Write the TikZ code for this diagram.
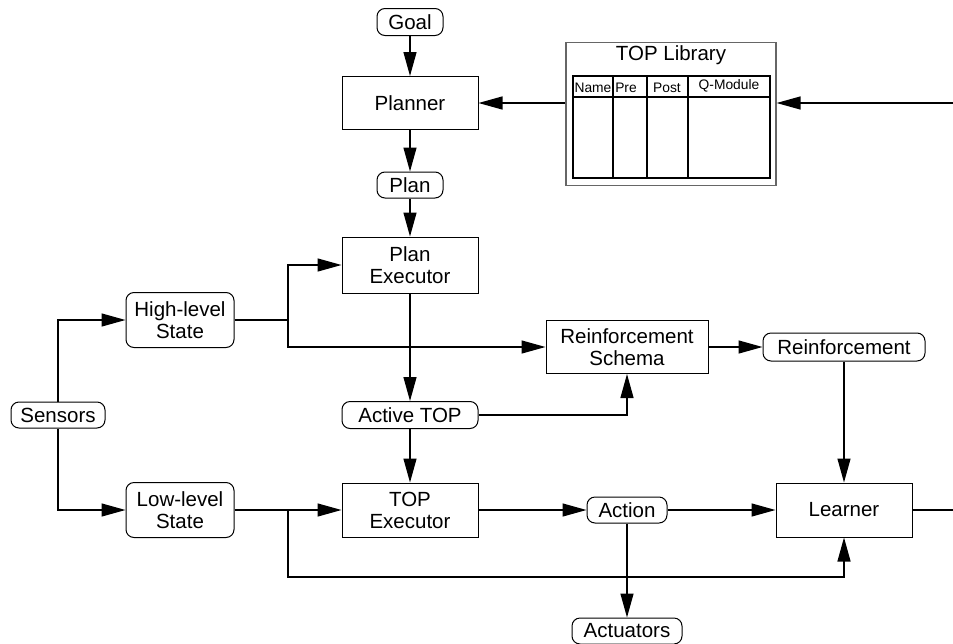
\documentclass[tikz,border=0pt]{standalone}
\usepackage{fontspec}
\setmainfont{Liberation Sans}
\usetikzlibrary{arrows.meta}
\begin{document}
\begin{tikzpicture}[x=1pt,y=-1pt,
  every node/.style={font=\fontsize{20.5}{22}\selectfont, inner sep=0pt, align=center},
  box/.style={draw, line width=1pt, rectangle},
  rbox/.style={draw, line width=1pt, rectangle, rounded corners=8pt},
  conn/.style={line width=1.3pt},
  arr/.style={line width=1.3pt, -{Triangle[length=24pt,width=13pt]}},
  small/.style={font=\fontsize{13.8}{15}\selectfont}
]
\useasboundingbox (0,0) rectangle (953,643);
% nodes
\node[rbox, minimum width=66pt, minimum height=27pt] (goal) at (410,22) {Goal};
\node[box, minimum width=136pt, minimum height=53pt] (planner) at (410,103) {Planner};
\node[rbox, minimum width=66pt, minimum height=26pt] (plan) at (410,185) {Plan};
\node[box, minimum width=136pt, minimum height=56pt] (pexec) at (410,265) {Plan\\Executor};
\node[rbox, minimum width=108pt, minimum height=55pt] (hstate) at (180,320) {High-level\\State};
\node[rbox, minimum width=94pt, minimum height=26pt] (sensors) at (58,415) {Sensors};
\node[rbox, minimum width=108pt, minimum height=55pt] (lstate) at (180,510) {Low-level\\State};
\node[box, minimum width=162pt, minimum height=53pt] (schema) at (627,347) {Reinforcement\\Schema};
\node[rbox, minimum width=162pt, minimum height=28pt] (reinf) at (844,347) {Reinforcement};
\node[rbox, minimum width=136pt, minimum height=27pt] (active) at (410,415) {Active TOP};
\node[box, minimum width=136pt, minimum height=54pt] (texec) at (410,510) {TOP\\Executor};
\node[rbox, minimum width=80pt, minimum height=26pt] (action) at (627,510) {Action};
\node[box, minimum width=136pt, minimum height=54pt] (learner) at (844,510) {Learner};
\node[rbox, minimum width=110pt, minimum height=26pt] (actuators) at (627,631) {Actuators};
% TOP library
\node[draw=black!60, line width=1.2pt, minimum width=210pt, minimum height=143pt] (lib) at (671,114) {};
\node (libtitle) at (671,55) {TOP Library};
\draw[line width=1.2pt] (573,76) rectangle (770,178);
\draw[line width=1.2pt] (573,97) -- (770,97);
\draw[line width=1.2pt] (613,76) -- (613,178);
\draw[line width=1.2pt] (647,76) -- (647,178);
\draw[line width=1.2pt] (688,76) -- (688,178);
\node[small] (tname) at (593,88) {Name};
\node[small] (tpre) at (626,88) {Pre};
\node[small] (tpost) at (667,88) {Post};
\node[small] (tq) at (729,86) {Q-Module};
% coordinates
\coordinate (rin) at (953,103);
\coordinate (rout) at (953,510);
\coordinate (ju) at (288,320);
\coordinate (jl) at (288,510);
% connectors
\draw[arr] (goal) -- (planner);
\draw[arr] (planner) -- (plan);
\draw[arr] (plan) -- (pexec);
\draw[arr] (pexec) -- (active);
\draw[arr] (active) -- (texec);
\draw[arr] (lib.west |- planner.east) -- (planner.east);
\draw[arr] (rin) -- (lib.east |- rin);
\draw[arr] (sensors.north) |- (hstate.west);
\draw[arr] (sensors.south) |- (lstate.west);
\draw[conn] (hstate.east) -- (ju);
\draw[arr] (ju) |- (pexec.west);
\draw[arr] (ju) |- (schema.west);
\draw[arr] (lstate.east) -- (texec.west);
\draw[arr] (jl) -- (288,577) -| (learner.south);
\draw[arr] (active.east) -| (schema.south);
\draw[arr] (schema) -- (reinf);
\draw[arr] (reinf) -- (learner);
\draw[arr] (texec) -- (action);
\draw[arr] (action) -- (learner);
\draw[arr] (action) -- (actuators);
\draw[conn] (learner.east) -- (rout);
\end{tikzpicture}
\end{document}
